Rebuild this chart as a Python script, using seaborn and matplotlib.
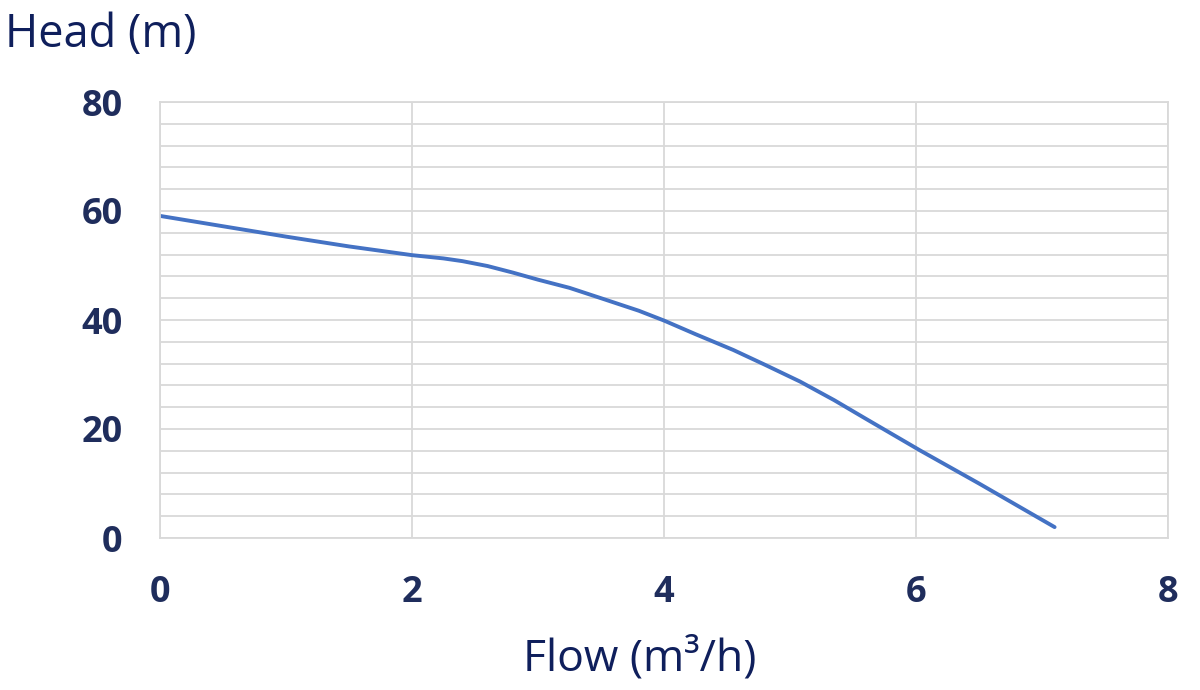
import matplotlib
matplotlib.use("Agg")
import matplotlib.pyplot as plt
import seaborn as sns
import pandas as pd
from matplotlib.ticker import MultipleLocator

sns.set_theme(style="white")
plt.rcParams['font.family'] = ['Open Sans', 'DejaVu Sans']

# pump curve
flow = [0, 0.5, 1, 1.5, 1.75, 2, 2.25, 2.4, 2.6, 2.8, 3, 3.25, 3.5, 3.8, 4,
        4.25, 4.55, 4.8, 5.08, 5.35, 5.6, 6.03, 6.5, 7.1]
head = [59.1, 57.2, 55.3, 53.5, 52.7, 51.9, 51.3, 50.8, 49.9, 48.7, 47.4, 45.9, 44.0, 41.7, 39.9,
        37.4, 34.5, 31.8, 28.7, 25.3, 21.9, 16.1, 10.0, 2.0]
x_ticks = [0, 2, 4, 6, 8]
y_ticks = [0, 20, 40, 60, 80]

navy = '#1F2D5C'
grid_col = '#D9D9D9'

df = pd.DataFrame({'Flow': flow, 'Head': head})

fig = plt.figure(figsize=(12, 6.9), dpi=100)
ax = fig.add_axes([160 / 1200, 1 - 538 / 690, 1008 / 1200, 436 / 690])

sns.lineplot(data=df, x='Flow', y='Head', ax=ax, color='#4472C4', linewidth=2.8)

ax.set_xlim(0, 8)
ax.set_ylim(0, 80)
ax.set_xticks(x_ticks)
ax.set_yticks(y_ticks)
ax.yaxis.set_minor_locator(MultipleLocator(4))
ax.grid(True, which='both', axis='y', color=grid_col, linewidth=1.3)
ax.grid(True, which='major', axis='x', color=grid_col, linewidth=1.3)
ax.set_axisbelow(True)
for s in ax.spines.values():
    s.set_color(grid_col)
    s.set_linewidth(1.3)

ax.tick_params(axis='both', which='both', length=0, labelsize=26, labelcolor=navy)
ax.tick_params(axis='x', pad=27)
ax.tick_params(axis='y', pad=27)
for lab in ax.get_xticklabels() + ax.get_yticklabels():
    lab.set_fontweight('bold')
ax.set_xlabel('')
ax.set_ylabel('')

fig.text(5 / 1200, 1 - 47 / 690, 'Head (m)', fontsize=32.5, color='#0F1F5C', ha='left', va='baseline')
fig.text(640 / 1200, 1 - 670 / 690, 'Flow (m³/h)', fontsize=32, color='#0F1F5C', ha='center', va='baseline')

fig.savefig('out.png', dpi=100, facecolor='white')
